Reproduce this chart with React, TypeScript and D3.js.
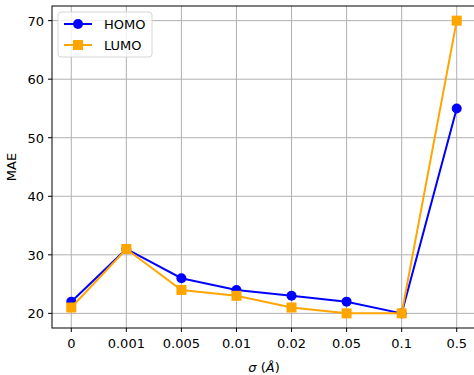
import { useMemo } from "react";
import * as d3 from "d3";

const sigmas = ["0", "0.001", "0.005", "0.01", "0.02", "0.05", "0.1", "0.5"];
const homo = [22, 31, 26, 24, 23, 22, 20, 55];
const lumo = [21, 31, 24, 23, 21, 20, 20, 70];
const yTicks = [20, 30, 40, 50, 60, 70];

export default function App() {
  const layout = useMemo(() => {
    const width = 474;
    const height = 375;
    const margin = { top: 6, right: -2, bottom: 47, left: 52 };
    const x = d3.scaleLinear().domain([-0.35, 7.35]).range([margin.left, width - margin.right]);
    const y = d3.scaleLinear().domain([17.5, 72.5]).range([height - margin.bottom, margin.top]);
    return { width, height, margin, x, y };
  }, []);
  const { width, height, margin, x, y } = layout;
  const line = d3.line<number>().x((_, i) => x(i)).y((v) => y(v));
  const font = "DejaVu Sans, sans-serif";
  const bottom = height - margin.bottom;
  const right = width - margin.right;
  const fs = 13;

  return (
    <svg width={width} height={height} style={{ position: "absolute", left: 0, top: 0, background: "#fff" }} fontFamily={font}>
      {sigmas.map((s, i) => (
        <g key={s}>
          <line x1={x(i)} x2={x(i)} y1={margin.top} y2={bottom} stroke="#b0b0b0" strokeWidth={1} />
          <line x1={x(i)} x2={x(i)} y1={bottom} y2={bottom + 4} stroke="#000" strokeWidth={1} />
          <text x={x(i)} y={bottom + 20} textAnchor="middle" fontSize={fs} fill="#000">{s}</text>
        </g>
      ))}
      {yTicks.map((t) => (
        <g key={t}>
          <line x1={margin.left} x2={right} y1={y(t)} y2={y(t)} stroke="#b0b0b0" strokeWidth={1} />
          <line x1={margin.left - 4} x2={margin.left} y1={y(t)} y2={y(t)} stroke="#000" strokeWidth={1} />
          <text x={margin.left - 8} y={y(t) + 5} textAnchor="end" fontSize={fs} fill="#000">{t}</text>
        </g>
      ))}
      <path d={line(homo) ?? ""} fill="none" stroke="blue" strokeWidth={2} />
      {homo.map((v, i) => (
        <circle key={i} cx={x(i)} cy={y(v)} r={5} fill="blue" />
      ))}
      <path d={line(lumo) ?? ""} fill="none" stroke="orange" strokeWidth={2} />
      {lumo.map((v, i) => (
        <rect key={i} x={x(i) - 5} y={y(v) - 5} width={10} height={10} fill="orange" />
      ))}
      <rect x={margin.left} y={margin.top} width={right - margin.left} height={bottom - margin.top} fill="none" stroke="#000" strokeWidth={1} />
      <text transform={`translate(16, ${(margin.top + bottom) / 2}) rotate(-90)`} textAnchor="middle" fontSize={fs} fill="#000">MAE</text>
      <text x={(margin.left + right) / 2} y={bottom + 44} textAnchor="middle" fontSize={fs} fill="#000">
        <tspan fontStyle="italic">σ</tspan> (<tspan fontStyle="italic">Å</tspan>)
      </text>
      <g transform={`translate(${margin.left + 6}, ${margin.top + 6})`}>
        <rect x={0} y={0} width={94} height={45} rx={3} fill="#fff" fillOpacity={0.8} stroke="#d6d6d6" strokeWidth={1} />
        {[
          { name: "HOMO", color: "blue", shape: "circle" },
          { name: "LUMO", color: "orange", shape: "square" },
        ].map((d, i) => (
          <g key={d.name} transform={`translate(6, ${12 + i * 21})`}>
            <line x1={0} x2={28} stroke={d.color} strokeWidth={2} />
            {d.shape === "circle" ? (
              <circle cx={14} cy={0} r={5} fill={d.color} />
            ) : (
              <rect x={9} y={-5} width={10} height={10} fill={d.color} />
            )}
            <text x={40} y={5} fontSize={fs} fill="#000">{d.name}</text>
          </g>
        ))}
      </g>
    </svg>
  );
}
